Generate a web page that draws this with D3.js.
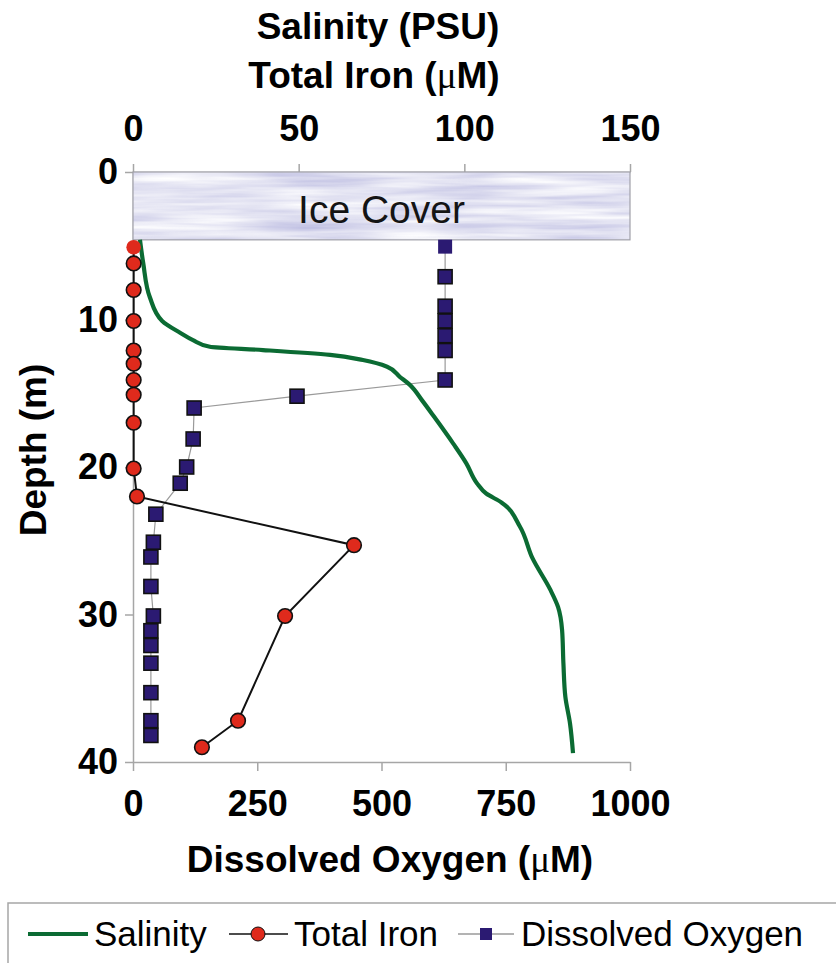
<!DOCTYPE html>
<html>
<head>
<meta charset="utf-8">
<script src="https://cdn.jsdelivr.net/npm/d3@7"></script>
<style>
  body { margin: 0; background: #fff; }
  svg { display: block; }
  text { font-family: "Liberation Sans", Arial, sans-serif; }
</style>
</head>
<body>
<script>
// depth range covered by ice (m)
const iceDepth = [0, 4.6]

// salinity profile (PSU)
const salinityDepth = [4.6, 6.2, 8.5, 10.1, 10.9, 11.4, 11.85, 12.07, 12.4, 12.75, 13.2, 13.9, 14.4, 15.5, 16.6, 18.4, 19.75, 21.1, 21.8, 22.4, 24.05, 26.2, 28.3, 29.5, 31.05, 33.3, 35.6, 37.4, 39.4]
const salinityValue = [2.1, 3.1, 5.1, 8.8, 14.2, 18.1, 23.2, 39.2, 59.5, 69.4, 76.7, 80.6, 83.4, 87.3, 90.9, 96.6, 100.6, 103.8, 106.6, 111.2, 116.8, 120.6, 125.9, 128.3, 129.5, 129.9, 130.5, 131.9, 132.8]

// total iron (uM)
const ironDepth = [5.1, 6.2, 8.0, 10.1, 12.1, 13.0, 14.1, 15.1, 17.0, 20.1, 22.0, 25.3, 30.1, 37.2, 39.0]
const ironValue = [0.2, 0.2, 0.2, 0.2, 0.2, 0.2, 0.2, 0.2, 0.2, 0.2, 1.2, 66.7, 45.9, 31.7, 20.8]

// dissolved oxygen (uM)
const oxygenDepth = [5.06, 7.1, 9.1, 10.1, 11.1, 12.1, 14.1, 15.2, 16.0, 18.1, 20.0, 21.1, 23.2, 25.1, 26.1, 28.1, 30.1, 31.1, 32.1, 33.3, 35.3, 37.2, 38.2]
const oxygenValue = [628, 628, 628, 628, 628, 628, 628, 330, 123, 121, 108, 95, 46, 41, 36, 36, 41, 36, 36, 36, 36, 36, 36]

const topTicks = [0, 50, 100, 150]
const bottomTicks = [0, 250, 500, 750, 1000]
const depthTicks = [0, 10, 20, 30, 40]

const W = 836, H = 963
const margin = {left: 133, right: 206, top: 172, bottom: 201}

const svg = d3.select('body').append('svg')
	.attr('width', W).attr('height', H)

const xTop = d3.scaleLinear().domain([0, 150]).range([margin.left, W - margin.right])
const xBottom = d3.scaleLinear().domain([0, 1000]).range([margin.left, W - margin.right])
const y = d3.scaleLinear().domain([0, 40]).range([margin.top, H - margin.bottom])

// Ice texture filter
const defs = svg.append('defs')
const filt = defs.append('filter').attr('id', 'ice')
	.attr('x', 0).attr('y', 0).attr('width', 1).attr('height', 1)
filt.append('feTurbulence')
	.attr('type', 'fractalNoise')
	.attr('baseFrequency', '0.008 0.13')
	.attr('numOctaves', 3).attr('seed', 4)
filt.append('feColorMatrix')
	.attr('type', 'matrix')
	.attr('values', '0.6 0 0 0 0.47  0.6 0 0 0 0.47  0.3 0 0 0 0.74  0 0 0 0 1')

// Axes
const axisColor = '#a6a6a6'
function styleAxis(g) {
	g.select('.domain').attr('stroke', axisColor).attr('stroke-width', 1.5)
	g.selectAll('.tick line').attr('stroke', axisColor).attr('stroke-width', 1.5)
	g.selectAll('.tick text')
		.attr('fill', '#000')
		.style('font-family', '"Liberation Sans", Arial, sans-serif')
		.style('font-size', '36px').style('font-weight', 'bold')
}

svg.append('g')
	.attr('transform', `translate(0,${y(0)})`)
	.call(d3.axisTop(xTop).tickValues(topTicks).tickSize(8).tickSizeOuter(0).tickPadding(23))
	.call(styleAxis)

svg.append('g')
	.attr('transform', `translate(0,${y(40)})`)
	.call(d3.axisBottom(xBottom).tickValues(bottomTicks).tickFormat(d3.format('d'))
		.tickSize(9).tickSizeOuter(0).tickPadding(19))
	.call(styleAxis)

svg.append('g')
	.attr('transform', `translate(${margin.left},0)`)
	.call(d3.axisLeft(y).tickValues(depthTicks).tickSize(8).tickSizeOuter(0).tickPadding(7))
	.call(styleAxis)

// Ice cover
svg.append('rect')
	.attr('x', xTop(0)).attr('y', y(iceDepth[0]))
	.attr('width', xTop(150) - xTop(0)).attr('height', y(iceDepth[1]) - y(iceDepth[0]))
	.attr('filter', 'url(#ice)')
svg.append('rect')
	.attr('x', xTop(0)).attr('y', y(iceDepth[0]))
	.attr('width', xTop(150) - xTop(0)).attr('height', y(iceDepth[1]) - y(iceDepth[0]))
	.attr('fill', 'none').attr('stroke', '#a0a0a8').attr('stroke-width', 1.2)
svg.append('text')
	.attr('x', (xTop(0) + xTop(150)) / 2).attr('y', 223)
	.attr('text-anchor', 'middle')
	.style('font-size', '39px').attr('fill', '#141414')
	.text('Ice Cover')

// Dissolved oxygen
const oxy = oxygenDepth.map((d, i) => ({d, v: oxygenValue[i]}))
svg.append('path')
	.datum(oxy)
	.attr('fill', 'none').attr('stroke', '#9a9a9a').attr('stroke-width', 1.2)
	.attr('d', d3.line().x(p => xBottom(p.v)).y(p => y(p.d)))
svg.selectAll('rect.oxy').data(oxy).join('rect')
	.attr('class', 'oxy')
	.attr('x', p => xBottom(p.v) - 7).attr('y', p => y(p.d) - 7)
	.attr('width', 14).attr('height', 14)
	.attr('fill', '#2b1a72')
	.attr('stroke', (p, i) => i === 0 ? 'none' : '#111').attr('stroke-width', 1.6)

// Salinity
const sal = salinityDepth.map((d, i) => ({d, v: salinityValue[i]}))
svg.append('path')
	.datum(sal)
	.attr('fill', 'none').attr('stroke', '#0b6b33').attr('stroke-width', 4.2)
	.attr('stroke-linejoin', 'round')
	.attr('d', d3.line().curve(d3.curveMonotoneY).x(p => xTop(p.v)).y(p => y(p.d)))

// Total iron
const iron = ironDepth.map((d, i) => ({d, v: ironValue[i]}))
svg.append('path')
	.datum(iron)
	.attr('fill', 'none').attr('stroke', '#111').attr('stroke-width', 2)
	.attr('d', d3.line().x(p => xTop(p.v)).y(p => y(p.d)))
svg.selectAll('circle.iron').data(iron).join('circle')
	.attr('class', 'iron')
	.attr('cx', p => xTop(p.v)).attr('cy', p => y(p.d))
	.attr('r', 7.3)
	.attr('fill', '#df2a1c')
	.attr('stroke', (p, i) => i === 0 ? 'none' : '#111').attr('stroke-width', 1.6)

// Axis titles
function title(sel, parts) {
	parts.forEach(([t, mu]) => {
		sel.append('tspan').text(t)
			.style('font-family', mu ? '"Liberation Serif", "DejaVu Serif", serif' : null)
			.style('font-weight', mu ? 'normal' : null)
	})
}
svg.append('text')
	.attr('x', 378).attr('y', 39)
	.attr('text-anchor', 'middle')
	.style('font-size', '37px').style('font-weight', 'bold')
	.text('Salinity (PSU)')
svg.append('text')
	.attr('x', 374).attr('y', 88)
	.attr('text-anchor', 'middle')
	.style('font-size', '37px').style('font-weight', 'bold')
	.call(title, [['Total Iron ('], ['\u03bc', true], ['M)']])
svg.append('text')
	.attr('x', 390).attr('y', 872)
	.attr('text-anchor', 'middle')
	.style('font-size', '37px').style('font-weight', 'bold')
	.call(title, [['Dissolved Oxygen ('], ['\u03bc', true], ['M)']])
svg.append('text')
	.attr('transform', 'translate(46,450) rotate(-90)')
	.attr('text-anchor', 'middle')
	.style('font-size', '37px').style('font-weight', 'bold')
	.text('Depth (m)')

// Legend
const legend = svg.append('g')
legend.append('rect')
	.attr('x', 8).attr('y', 903).attr('width', 860).attr('height', 90)
	.attr('fill', '#fff').attr('stroke', '#a6a6a6').attr('stroke-width', 1.5)
const ly = 934
legend.append('line')
	.attr('x1', 28).attr('x2', 88).attr('y1', ly).attr('y2', ly)
	.attr('stroke', '#0b6b33').attr('stroke-width', 4.2)
legend.append('text').attr('x', 94).attr('y', 946).style('font-size', '35px').text('Salinity')
legend.append('line')
	.attr('x1', 229).attr('x2', 288).attr('y1', ly).attr('y2', ly)
	.attr('stroke', '#111').attr('stroke-width', 1.5)
legend.append('circle')
	.attr('cx', 258).attr('cy', ly).attr('r', 7)
	.attr('fill', '#df2a1c').attr('stroke', '#111').attr('stroke-width', 1)
legend.append('text').attr('x', 294).attr('y', 946).style('font-size', '35px').text('Total Iron')
legend.append('line')
	.attr('x1', 458).attr('x2', 514).attr('y1', ly).attr('y2', ly)
	.attr('stroke', '#9a9a9a').attr('stroke-width', 1.5)
legend.append('rect')
	.attr('x', 480).attr('y', ly - 6).attr('width', 12).attr('height', 12)
	.attr('fill', '#2b1a72')
legend.append('text').attr('x', 521).attr('y', 946).style('font-size', '35px').text('Dissolved Oxygen')
</script>
</body>
</html>
